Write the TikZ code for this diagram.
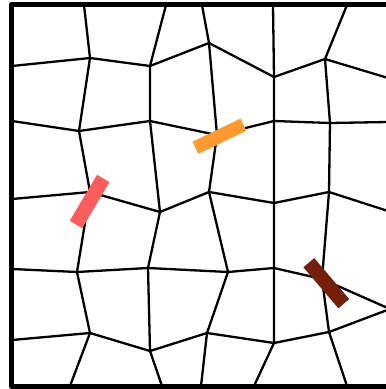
\documentclass[tikz,border=0pt]{standalone}
\definecolor{barred}{RGB}{255,92,92}
\definecolor{barorange}{RGB}{255,154,51}
\definecolor{barbrown}{RGB}{115,31,10}
\begin{document}
\begin{tikzpicture}[x=1pt,y=-1pt,
  gridline/.style={line width=2.3pt, line join=round},
  frameline/.style={line width=5pt, line join=round},
  bar/.style={line width=14pt, line cap=butt}]
\useasboundingbox (0,0) rectangle (386,389);
\clip (0,0) rectangle (386,389);
% top edge
\coordinate (v01) at (84,5);   \coordinate (v02) at (166,5);  \coordinate (v03) at (202,5);
\coordinate (v04) at (273,5);  \coordinate (v05) at (347,5);
% row 1
\coordinate (v10) at (12,66);  \coordinate (v11) at (90,58);  \coordinate (v12) at (150,66);
\coordinate (v13) at (209,43); \coordinate (v14) at (274,77); \coordinate (v15) at (325,59);
\coordinate (v16) at (388,78);
% row 2
\coordinate (v20) at (12,121); \coordinate (v21) at (79,131); \coordinate (v22) at (150,121);
\coordinate (v23) at (217,135);\coordinate (v24) at (274,121);\coordinate (v25) at (330,123);
\coordinate (v26) at (388,122);
% row 3
\coordinate (v30) at (12,199); \coordinate (v31) at (90,192); \coordinate (v32) at (160,212);
\coordinate (v33) at (209,192);\coordinate (v34) at (274,203);\coordinate (v35) at (329,192);
\coordinate (v36) at (388,211);
% row 4
\coordinate (v40) at (12,269); \coordinate (v41) at (77,272); \coordinate (v42) at (148,268);
\coordinate (v43) at (228,272);\coordinate (v44) at (274,268);\coordinate (v45) at (322,279);
\coordinate (v46) at (390,309);
% row 5
\coordinate (v50) at (12,340); \coordinate (v51) at (90,333); \coordinate (v52) at (150,351);
\coordinate (v53) at (207,333);\coordinate (v54) at (274,343);\coordinate (v55) at (329,332);
\coordinate (v56) at (390,309);
% bottom edge
\coordinate (v61) at (70,386); \coordinate (v62) at (162,386); \coordinate (v63) at (201,386);
\coordinate (v64) at (254,386);\coordinate (v65) at (347,386);
% grid rows
\foreach \r in {1,...,5}
  \draw[gridline] (v\r0) -- (v\r1) -- (v\r2) -- (v\r3) -- (v\r4) -- (v\r5) -- (v\r6);
% grid columns
\foreach \c in {1,...,5}
  \draw[gridline] (v0\c) -- (v1\c) -- (v2\c) -- (v3\c) -- (v4\c) -- (v5\c) -- (v6\c);
% frame
\coordinate (ftr) at (388,4.5); \coordinate (ftl) at (11.5,4.5);
\coordinate (fbl) at (11.5,386.5); \coordinate (fbr) at (388,386.5);
\draw[frameline] (ftr) -- (ftl) -- (fbl) -- (fbr);
% bars
\coordinate (ra) at (103.3,178.5); \coordinate (rb) at (76,224.5);
\coordinate (oa) at (195.5,147.8); \coordinate (ob) at (243.5,124.7);
\coordinate (ba) at (308.8,262.7); \coordinate (bb) at (343.8,303.7);
\draw[bar, barred, line width=14.5pt] (ra) -- (rb);
\draw[bar, barorange, line width=13.5pt] (oa) -- (ob);
\draw[bar, barbrown, line width=14.2pt] (ba) -- (bb);
\end{tikzpicture}
\end{document}
